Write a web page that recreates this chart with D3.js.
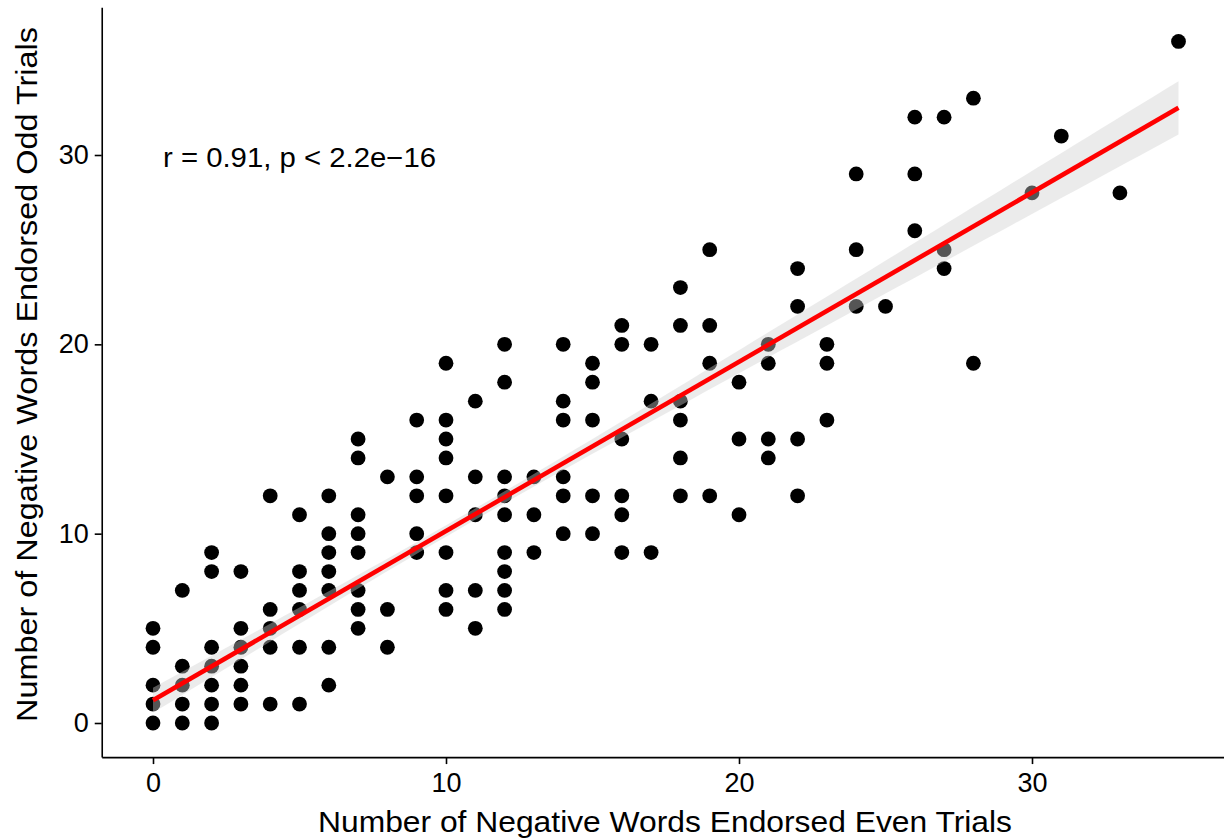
<!DOCTYPE html>
<html>
<head>
<meta charset="utf-8">
<script src="https://cdn.jsdelivr.net/npm/d3@7"></script>
<style>
  html, body { margin: 0; padding: 0; background: #fff; }
  svg { display: block; }
  text { font-family: "Liberation Sans", Arial, sans-serif; }
</style>
</head>
<body>
<svg id="chart" width="1224" height="839"></svg>
<script>
// Even-trial scores (x) and the odd-trial scores (y) observed at each of them
const evenValues = [0, 1, 2, 3, 4, 5, 6, 7, 8, 9, 10, 11, 12, 13, 14, 15, 16, 17, 18, 19, 20, 21, 22, 23, 24, 25, 26, 27, 28, 30, 31, 33, 35];
const oddAtEven = [
  [0, 1, 2, 4, 5],
  [0, 1, 2, 3, 7],
  [0, 1, 2, 3, 4, 8, 9],
  [1, 2, 3, 4, 5, 8],
  [1, 4, 5, 6, 12],
  [1, 4, 6, 7, 8, 11],
  [2, 4, 7, 8, 9, 10, 12],
  [5, 6, 7, 9, 10, 11, 14, 15],
  [4, 6, 13],
  [9, 10, 12, 13, 16],
  [6, 7, 9, 12, 14, 15, 16, 19],
  [5, 7, 11, 13, 17],
  [6, 7, 8, 9, 11, 12, 13, 18, 20],
  [9, 11, 13],
  [10, 12, 13, 16, 17, 20],
  [10, 12, 16, 18, 19],
  [9, 11, 12, 15, 20, 21],
  [9, 17, 20],
  [12, 14, 16, 17, 21, 23],
  [12, 19, 21, 25],
  [11, 15, 18],
  [14, 15, 19, 20],
  [12, 15, 22, 24],
  [16, 19, 20],
  [22, 25, 29],
  [22],
  [26, 29, 32],
  [24, 25, 32],
  [19, 33],
  [28],
  [31],
  [28],
  [36]
];
// Linear fit (y = a + b x) and its 95% band shape
const fitIntercept = [1.2];
const fitSlope = [0.894];
const bandParams = [10.5, 0.09, 0.00316]; // centre x, base variance, slope of variance
const xTicks = [0, 10, 20, 30];
const yTicks = [0, 10, 20, 30];
const annotationText = "r = 0.91, p < 2.2e\u221216";
const xTitle = "Number of Negative Words Endorsed Even Trials";
const yTitle = "Number of Negative Words Endorsed Odd Trials";

const points = [];
evenValues.forEach((xv, i) => oddAtEven[i].forEach(yv => points.push({x: xv, y: yv})));

const svg = d3.select("#chart");
const pxPerX = (1032 - 153) / 30;
const pxPerY = (723 - 155) / 30;
const x = d3.scaleLinear().domain([-1.75, 36.75]).range([153 - 1.75 * pxPerX, 153 + 36.75 * pxPerX]);
const y = d3.scaleLinear().domain([-1.8, 37.8]).range([723 + 1.8 * pxPerY, 723 - 37.8 * pxPerY]);

// points
svg.append("g").selectAll("circle").data(points).join("circle")
  .attr("cx", d => x(d.x)).attr("cy", d => y(d.y)).attr("r", 7.4).attr("fill", "#000");

// fit band + line
const xmin = d3.min(points, d => d.x), xmax = d3.max(points, d => d.x);
const grid = d3.range(0, 81).map(i => xmin + (xmax - xmin) * i / 80);
const fit = xv => fitIntercept[0] + fitSlope[0] * xv;
const half = xv => Math.sqrt(bandParams[1] + bandParams[2] * (xv - bandParams[0]) ** 2);
svg.append("path")
  .attr("d", d3.area().x(d => x(d)).y0(d => y(fit(d) - half(d))).y1(d => y(fit(d) + half(d)))(grid))
  .attr("fill", "rgb(207,207,207)").attr("fill-opacity", 0.41);
svg.append("path")
  .attr("d", d3.line().x(d => x(d)).y(d => y(fit(d)))([xmin, xmax]))
  .attr("stroke", "#ff0000").attr("stroke-width", 4.6).attr("fill", "none");

// axes
const xAxis = svg.append("g").attr("transform", `translate(0,${y(-1.8)})`)
  .call(d3.axisBottom(x).tickValues(xTicks).tickSize(7).tickSizeOuter(0).tickPadding(9));
const yAxis = svg.append("g").attr("transform", `translate(${x(-1.75)},0)`)
  .call(d3.axisLeft(y).tickValues(yTicks).tickSize(7).tickSizeOuter(0).tickPadding(6));
[xAxis, yAxis].forEach(g => {
  g.select(".domain").attr("stroke", "#000").attr("stroke-width", 1.6);
  g.selectAll(".tick line").attr("stroke", "#000").attr("stroke-width", 1.6);
  g.selectAll(".tick text").attr("fill", "#000").attr("font-size", 27)
    .attr("font-family", "'Liberation Sans', Arial, sans-serif");
});

// annotation
svg.append("text").attr("x", 163).attr("y", 167).attr("font-size", 27)
  .attr("textLength", 273).attr("lengthAdjust", "spacingAndGlyphs").text(annotationText);

// titles
svg.append("text").attr("x", 665).attr("y", 832).attr("text-anchor", "middle").attr("font-size", 29.5)
  .attr("textLength", 694).attr("lengthAdjust", "spacingAndGlyphs").text(xTitle);
svg.append("text").attr("transform", "translate(37,374.5) rotate(-90)").attr("text-anchor", "middle")
  .attr("font-size", 29.5).attr("textLength", 695).attr("lengthAdjust", "spacingAndGlyphs").text(yTitle);
</script>
</body>
</html>
